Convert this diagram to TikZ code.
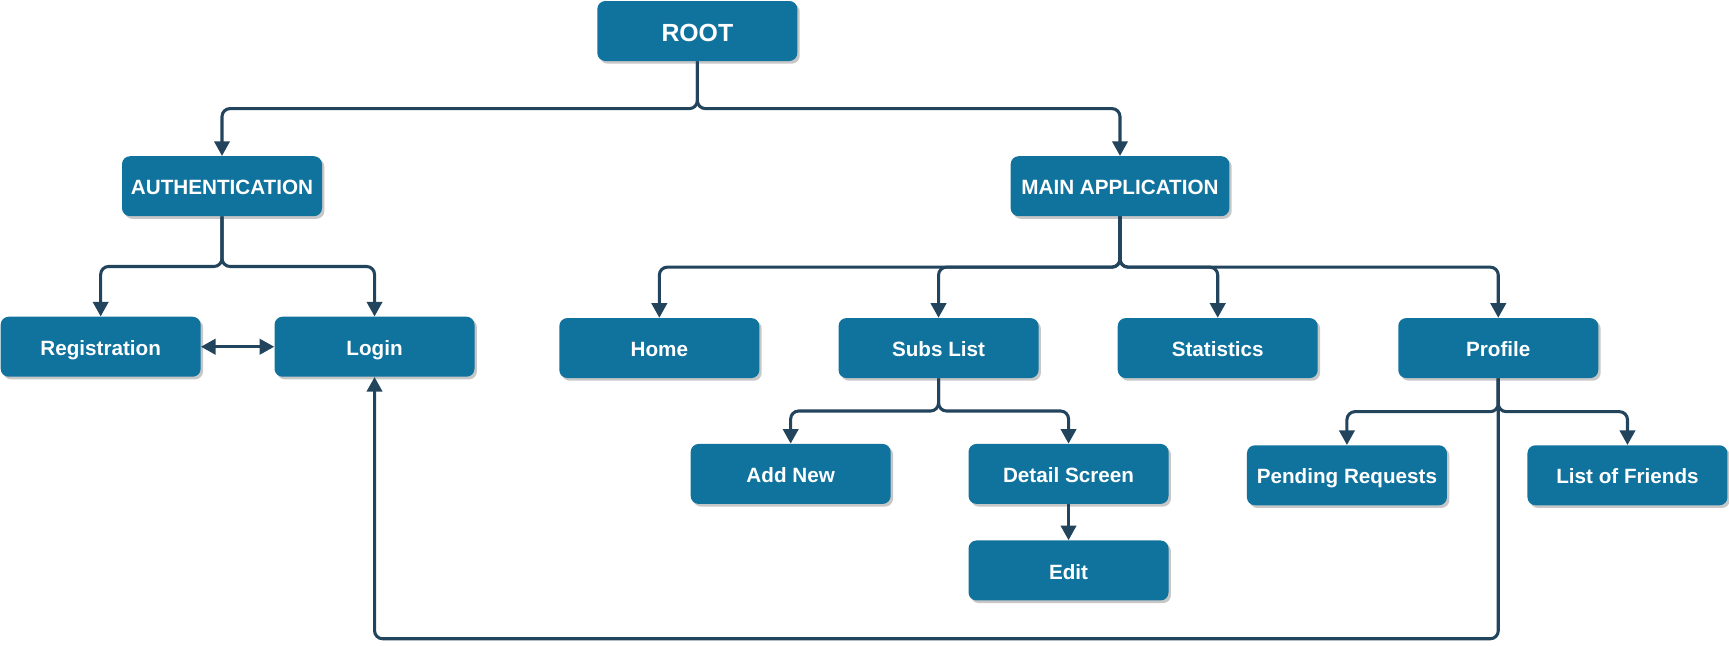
\documentclass[tikz,border=0pt]{standalone}
\usepackage{fontspec}
\setmainfont{Liberation Sans}
\usetikzlibrary{positioning}
\usetikzlibrary{calc}
\usetikzlibrary{shadows}
\usetikzlibrary{arrows.meta}
\definecolor{boxblue}{HTML}{10739E}
\definecolor{linkblue}{HTML}{23445D}
\tikzstyle{screen} = [rectangle, rounded corners=6pt, fill=boxblue, text=white,
minimum width=150pt, minimum height=45pt, inner sep=2pt,
text height=13pt, text depth=0pt,
font=\bfseries\fontsize{15.5}{18}\selectfont,
drop shadow={shadow xshift=1.8pt, shadow yshift=-2pt, fill=black, opacity=0.22}]
\tikzstyle{link} = [draw=linkblue, line width=2.3pt, rounded corners=6pt, ->]
\tikzset{>={Triangle[width=11.5pt, length=11pt]}}
\newcommand{\branch}[3][]{ %
  % Tree edges from parent #2 down to every child in #3.
  \foreach \y in {#3} { %
    \draw[link,#1] (#2.south) |- ($(#2.south)!0.5!(\y.north)$) -| (\y.north) ;%
  } ;
}
\begin{document}
\begin{tikzpicture}
  \useasboundingbox (0,0) rectangle (1296.75pt,-484.5pt);

  \node[screen, text height=15pt, font=\bfseries\fontsize{18.6}{22}\selectfont] (root) at (523pt,-23.25pt) {ROOT};
  \node[screen, below=71pt of root, xshift=-356.5pt] (auth) {AUTHENTICATION};
  \node[screen, below=71pt of root, xshift=317pt, minimum width=164pt] (main) {MAIN APPLICATION};

  \node[screen, below=75pt of auth, xshift=-91pt] (reg) {Registration};
  \node[screen, right=55pt of reg] (login) {Login};

  \node[screen, below=76pt of main, xshift=-345.5pt] (home) {Home};
  \node[screen, right=59pt of home] (subs) {Subs List};
  \node[screen, right=59pt of subs] (stats) {Statistics};
  \node[screen, right=60pt of stats] (profile) {Profile};

  \node[screen, below=49pt of subs, xshift=97.5pt] (detail) {Detail Screen};
  \node[screen, left=58pt of detail] (addnew) {Add New};
  \node[screen, below=27pt of detail] (edit) {Edit};

  \node[screen, below=50pt of profile, xshift=-113.5pt] (pending) {Pending Requests};
  \node[screen, right=60pt of pending] (friends) {List of Friends};

  \branch {root} {auth,main}
  \branch {auth} {reg,login}
  \branch {main} {home,subs,stats,profile}
  \branch {subs} {addnew,detail}
  \branch {profile} {pending,friends}
  \draw[link] (detail) -- (edit);
  \draw[link,<->] (reg) -- (login);

  % way back from the profile to the login screen
  \coordinate[below=28.5pt of edit.south] (loop);
  \draw[link] (profile.south) |- (loop) -| (login.south);
\end{tikzpicture}
\end{document}
